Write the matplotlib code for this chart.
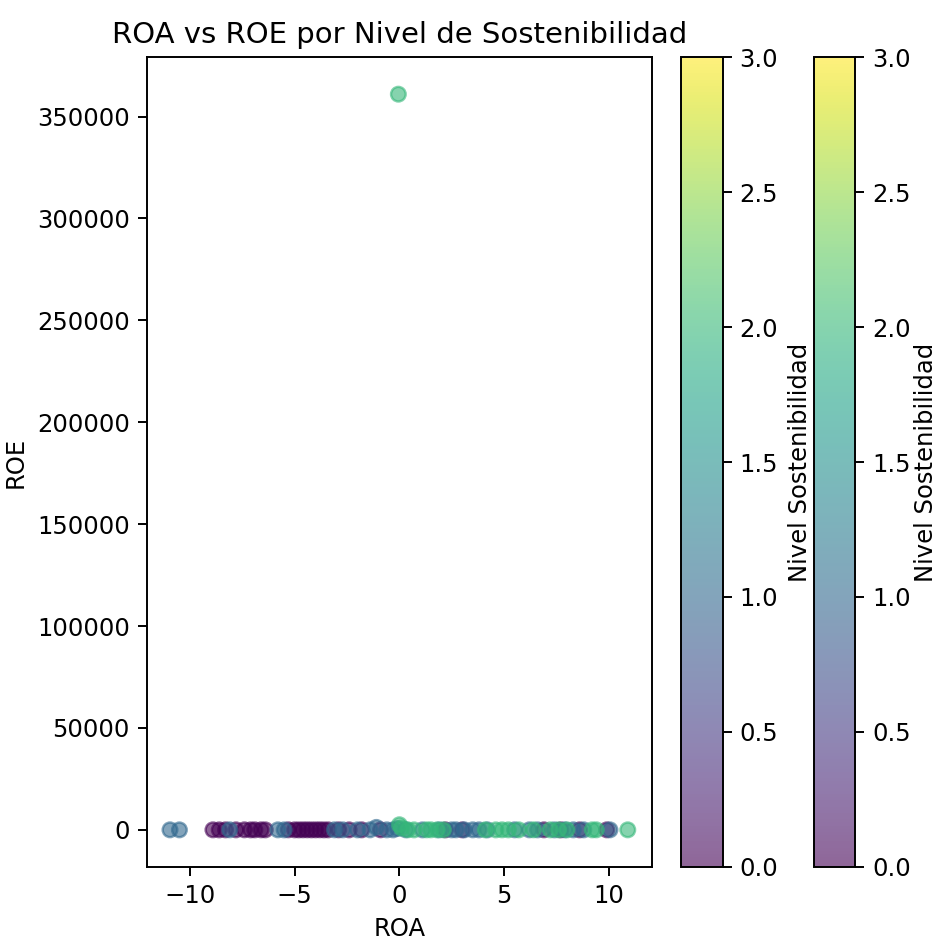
import numpy as np
import matplotlib.pyplot as plt

# valores (ROA, ROE, nivel de sostenibilidad)
roa_n0 = [-8.9, -8.6, -8.3, -7.8, -7.4, -7.1, -6.9, -6.6, -6.4, -5.3, -5.0, -4.8, -4.6, -4.4,
          -4.2, -4.0, -3.8, -3.6, -3.4, -2.9, -2.4, -1.8, -0.9, 2.2, 3.0, 6.9, 7.7, 8.6, 9.9]
roe_n0 = [12.5, -8.0, 3.0, 4.1, 22.0, -15.3, 6.7, 9.9, -3.2, 18.4, 2.2, -11.0, 7.5, 14.8,
          -6.1, 3.3, 25.6, -9.4, 1.8, 11.2, -4.7, 8.3, 16.9, -2.5, 5.6, 13.0, -4.0, -7.2, 4.4]

roa_n1 = [-10.95, -10.5, -8.1, -5.8, -5.5, -3.1, -2.7, -2.0, -1.4, -1.1, -0.6, -0.3, -0.1,
          0.3, 1.1, 1.9, 2.5, 2.7, 3.1, 3.5, 3.8, 4.2, 5.5, 6.2, 6.6, 7.4, 7.9, 8.3, 8.8, 10.05]
roe_n1 = [6.2, -3.9, 15.1, 9.0, -12.4, 20.3, 3.7, -6.6, 11.8, 1200.0, 7.1, -2.0, 650.0,
          14.2, -8.8, 5.4, 2.1, 19.7, -1.1, 10.6, 2.9, -5.3, 17.4, 8.1, -3.6, -9.9, 6.0, 12.2, 0.6, 6.8]

roa_n2 = [0.0, 0.1, 0.4, 0.7, 1.3, 1.5, 1.8, 2.1, 4.1, 4.6, 4.9, 5.2, 5.7, 6.4,
          7.2, 7.6, 8.0, 9.2, 9.4, 10.9, -0.05]
roe_n2 = [2500.0, 900.0, 14.0, -6.5, 8.8, 21.1, -3.0, 11.4, 4.9, -10.2, 16.3, 7.7, -1.6, 13.5,
          1.4, 3.1, -2.8, -7.9, 9.6, 5.0, 361000.0]

roa = roa_n0 + roa_n1 + roa_n2
roe = roe_n0 + roe_n1 + roe_n2
nivel = [0] * len(roa_n0) + [1] * len(roa_n1) + [2] * len(roa_n2)

fig = plt.figure(figsize=(942 / 175, 941 / 175), dpi=175)
ax = fig.add_axes([0.156, 0.079, 0.536, 0.860])
cax1 = fig.add_axes([0.723, 0.079, 0.044, 0.860])
cax2 = fig.add_axes([0.864, 0.079, 0.044, 0.860])

sc = ax.scatter(roa, roe, c=nivel, cmap='viridis', vmin=0, vmax=3, alpha=0.6)
ax.set_title('ROA vs ROE por Nivel de Sostenibilidad')
ax.set_xlabel('ROA')
ax.set_ylabel('ROE')
ax.set_xlim(-12.05, 12.05)

# el original llamaba a colorbar dos veces
cb1 = fig.colorbar(sc, cax=cax1)
cb1.set_label('Nivel Sostenibilidad')
cb2 = fig.colorbar(sc, cax=cax2)
cb2.set_label('Nivel Sostenibilidad', labelpad=1)

fig.savefig('out.png', dpi=175)
